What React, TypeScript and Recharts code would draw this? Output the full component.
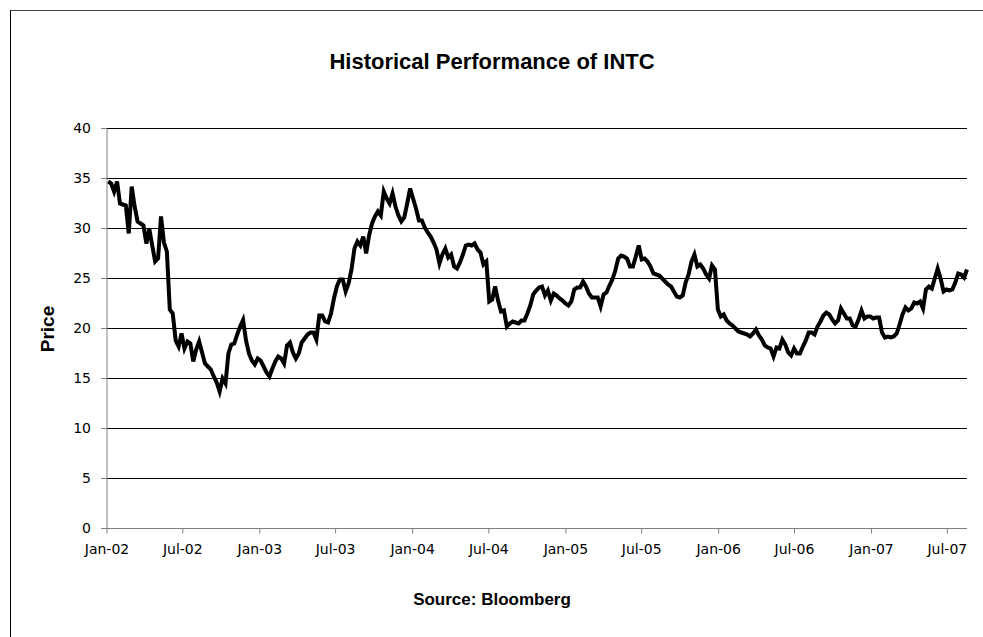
import { LineChart, Line, XAxis, YAxis, CartesianGrid } from "recharts";

// weekly closes, one array per half year
const h1_2002 = [34.7, 34.5, 33.7, 34.7, 32.5, 32.4, 32.3, 29.5, 34.2, 32.2, 30.7, 30.5, 30.3, 28.5, 30.0, 28.3, 26.7, 27.0, 31.2, 28.6, 27.7, 21.9, 21.5, 18.8, 18.2, 19.5];
const h2_2002 = [18.0, 18.7, 18.5, 16.7, 17.9, 18.7, 17.6, 16.5, 16.2, 15.9, 15.2, 14.6, 13.7, 15.0, 14.5, 17.5, 18.4, 18.5, 19.4, 20.2, 20.85, 18.8, 17.5, 16.8, 16.4, 17.0];
const h1_2003 = [16.8, 16.2, 15.6, 15.2, 16.0, 16.7, 17.2, 17.0, 16.5, 18.3, 18.6, 17.6, 17.0, 17.5, 18.6, 19.0, 19.4, 19.6, 19.6, 18.9, 21.3, 21.3, 20.7, 20.6, 21.5, 23.0];
const h2_2003 = [24.2, 24.9, 24.9, 23.7, 24.5, 25.9, 28.0, 28.7, 28.3, 29.2, 27.5, 29.3, 30.5, 31.2, 31.7, 31.3, 33.7, 33.0, 32.5, 33.5, 32.2, 31.3, 30.7, 31.1, 32.5, 34.0];
const h1_2004 = [33.0, 32.0, 30.8, 30.8, 30.1, 29.6, 29.2, 28.6, 27.9, 26.5, 27.4, 28.0, 27.1, 27.4, 26.2, 26.0, 26.6, 27.4, 28.3, 28.4, 28.3, 28.5, 27.9, 27.6, 26.4, 26.7];
const h2_2004 = [22.7, 22.9, 24.2, 22.8, 21.7, 21.8, 20.2, 20.5, 20.7, 20.6, 20.5, 20.8, 20.8, 21.5, 22.3, 23.4, 23.8, 24.1, 24.2, 23.3, 23.8, 22.8, 23.5, 23.3, 23.0, 22.8];
const h1_2005 = [22.5, 22.3, 22.7, 23.9, 24.1, 24.1, 24.7, 24.2, 23.5, 23.1, 23.1, 23.1, 22.2, 23.4, 23.6, 24.3, 24.9, 25.8, 27.0, 27.3, 27.2, 27.0, 26.2, 26.2, 27.2, 28.3];
const h2_2005 = [26.9, 27.0, 26.7, 26.2, 25.5, 25.4, 25.3, 25.0, 24.7, 24.4, 24.2, 23.7, 23.2, 23.1, 23.3, 24.6, 25.4, 26.7, 27.4, 26.2, 26.4, 26.0, 25.4, 25.0, 26.3, 25.9];
const h1_2006 = [21.9, 21.2, 21.4, 20.8, 20.5, 20.3, 20.0, 19.7, 19.6, 19.5, 19.4, 19.2, 19.5, 19.9, 19.3, 18.9, 18.3, 18.1, 18.0, 17.2, 18.1, 18.0, 18.9, 18.4, 17.6, 17.3];
const h2_2006 = [18.0, 17.5, 17.5, 18.2, 18.8, 19.6, 19.6, 19.4, 20.2, 20.7, 21.3, 21.6, 21.4, 20.9, 20.5, 20.8, 22.0, 21.5, 21.0, 21.0, 20.3, 20.2, 20.9, 21.8, 21.0, 21.2];
const h1_2007 = [21.2, 21.0, 21.1, 21.1, 19.6, 19.1, 19.2, 19.1, 19.2, 19.5, 20.4, 21.4, 22.1, 21.8, 22.0, 22.6, 22.5, 22.7, 22.0, 23.9, 24.2, 24.0, 25.0, 26.0, 25.0, 23.7];
const h2_2007 = [23.9, 23.8, 23.9, 24.6, 25.5, 25.4, 25.1, 25.9];

const weeklyCloses = [
  ...h1_2002, ...h2_2002, ...h1_2003, ...h2_2003, ...h1_2004, ...h2_2004,
  ...h1_2005, ...h2_2005, ...h1_2006, ...h2_2006, ...h1_2007, ...h2_2007,
];

const FIRST_CLOSE = Date.UTC(2002, 0, 4);
const WEEK = 7 * 24 * 3600 * 1000;

const tickYears = [2002, 2003, 2004, 2005, 2006, 2007];
const xTicks = tickYears.flatMap((y) => [Date.UTC(y, 0, 1), Date.UTC(y, 6, 1)]);
const yTicks = [0, 5, 10, 15, 20, 25, 30, 35, 40];
const MONTHS = ["Jan", "Feb", "Mar", "Apr", "May", "Jun", "Jul", "Aug", "Sep", "Oct", "Nov", "Dec"];

const data = weeklyCloses.map((price, i) => ({ date: FIRST_CLOSE + i * WEEK, price }));
const lastDate = data[data.length - 1].date;

const fmtDate = (t: number) => {
  const d = new Date(t);
  return `${MONTHS[d.getUTCMonth()]}-${String(d.getUTCFullYear() % 100).padStart(2, "0")}`;
};

const tickFont = { fill: "#000", fontSize: 14, fontFamily: "'DejaVu Sans', Verdana, sans-serif" };
const boldFont = "'Liberation Sans', Arial, sans-serif";

export default function App() {
  return (
    <div style={{ position: "absolute", left: 0, top: 0, width: 983, height: 637, background: "#fff", overflow: "hidden" }}>
      <div
        style={{
          position: "absolute", left: 10, top: 10, width: 973, height: 627,
          borderTop: "1px solid #444", borderLeft: "1px solid #000",
        }}
      />
      <div
        style={{
          position: "absolute", left: 0, top: 51, width: 984, textAlign: "center",
          fontFamily: boldFont, fontWeight: "bold", fontSize: 22, lineHeight: 1,
        }}
      >
        Historical Performance of INTC
      </div>
      <div
        style={{
          position: "absolute", left: 47, top: 329, transform: "translate(-50%, -50%) rotate(-90deg)",
          fontFamily: boldFont, fontWeight: "bold", fontSize: 19, lineHeight: 1, whiteSpace: "nowrap",
        }}
      >
        Price
      </div>
      <div
        style={{
          position: "absolute", left: 0, top: 591, width: 984, textAlign: "center",
          fontFamily: boldFont, fontWeight: "bold", fontSize: 17, lineHeight: 1,
        }}
      >
        Source: Bloomberg
      </div>
      <div style={{ position: "absolute", left: 0, top: 0 }}>
        <LineChart width={983} height={637} data={data} margin={{ top: 128.5, right: 16, bottom: 78.5, left: 0 }}>
          <CartesianGrid vertical={false} stroke="#000" />
          <XAxis
            dataKey="date"
            type="number"
            domain={[Date.UTC(2002, 0, 1), lastDate]}
            ticks={xTicks}
            tickFormatter={fmtDate}
            interval={0}
            height={30}
            stroke="#808080"
            tickSize={5}
            tickMargin={11}
            tick={tickFont}
          />
          <YAxis
            domain={[0, 40]}
            ticks={yTicks}
            width={107}
            stroke="#808080"
            tickSize={6}
            tickMargin={10}
            tick={tickFont}
          />
          <Line
            type="linear"
            dataKey="price"
            stroke="#000"
            strokeWidth={4}
            dot={false}
            isAnimationActive={false}
          />
        </LineChart>
      </div>
    </div>
  );
}
